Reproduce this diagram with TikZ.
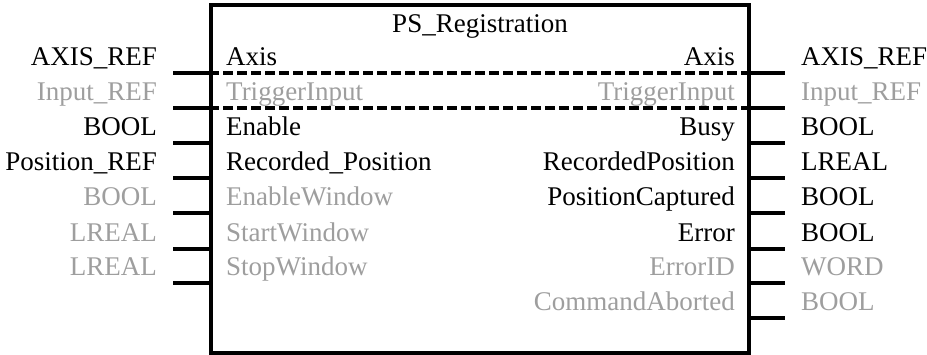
\documentclass[tikz,border=0pt]{standalone}
\usepackage{fontspec}
\setmainfont{Liberation Serif}
\usetikzlibrary{positioning}
\definecolor{pale}{RGB}{158,158,158}

\begin{document}
\begin{tikzpicture}[
      x=1pt, y=1pt,
      fblock/.style={draw, line width=4pt, minimum width=538pt, minimum height=348pt, inner sep=0pt},
      pin/.style={line width=4pt},
      sep/.style={line width=4pt, dash pattern=on 10pt off 4pt},
      lbl/.style={font=\fontsize{27pt}{32pt}\selectfont, inner sep=0pt}
    ]
    \useasboundingbox (0,0) rectangle (927,-355);

    \node[fblock] (fb) at (480,-179) {};
    \node[lbl, anchor=base] (title) at (480,-33) {PS\_Registration};

    \foreach \y/\typ/\nam/\col [count=\i] in {
        73/AXIS\_REF/Axis/black,
        108/Input\_REF/TriggerInput/pale,
        143/BOOL/Enable/black,
        178/Position\_REF/Recorded\_Position/black,
        213/BOOL/EnableWindow/pale,
        249/LREAL/StartWindow/pale,
        283/LREAL/StopWindow/pale} {
      \coordinate (lpin\i) at (173,-\y);
      \draw[pin] (lpin\i) -- (lpin\i -| fb.west);
      \node[lbl, text=\col, anchor=base east] (ltyp\i) at (157,-\y+7.5) {\typ};
      \node[lbl, text=\col, anchor=base west] (lnam\i) at (226,-\y+7.5) {\nam};
    }

    \foreach \y/\typ/\nam/\col [count=\i] in {
        73/AXIS\_REF/Axis/black,
        108/Input\_REF/TriggerInput/pale,
        143/BOOL/Busy/black,
        178/LREAL/RecordedPosition/black,
        213/BOOL/PositionCaptured/black,
        249/BOOL/Error/black,
        283/WORD/ErrorID/pale,
        318/BOOL/CommandAborted/pale} {
      \coordinate (rpin\i) at (785,-\y);
      \draw[pin] (rpin\i -| fb.east) -- (rpin\i);
      \node[lbl, text=\col, anchor=base west] (rtyp\i) at (801,-\y+7.5) {\typ};
      \node[lbl, text=\col, anchor=base east] (rnam\i) at (735,-\y+7.5) {\nam};
    }

    \draw[sep] (lpin1 -| fb.west) -- (rpin1 -| fb.east);
    \draw[sep] (lpin2 -| fb.west) -- (rpin2 -| fb.east);

  \end{tikzpicture}
\end{document}
